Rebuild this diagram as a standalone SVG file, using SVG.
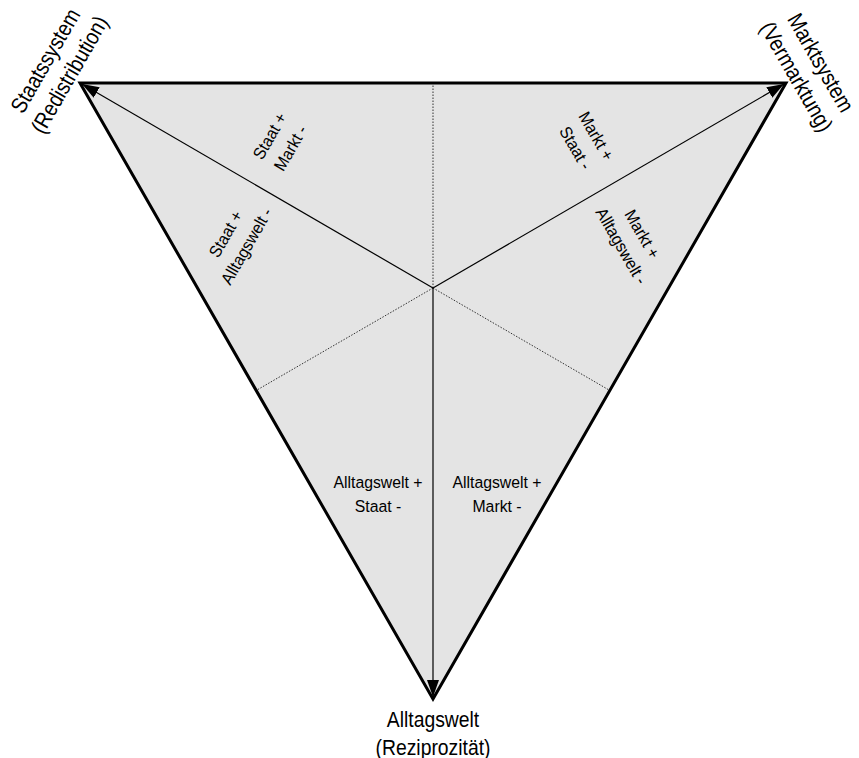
<svg xmlns="http://www.w3.org/2000/svg" width="859" height="758" viewBox="0 0 859 758">
<style>
text{font-family:"Liberation Sans",Arial,sans-serif;fill:#000;text-anchor:middle}
.big{font-size:22.5px}
.sm{font-size:17px}
.solid{stroke:#000;stroke-width:1.2;fill:none}
.dot{stroke:#333;stroke-width:1;stroke-dasharray:1.5,1.5;fill:none}
</style>
<defs>
<marker id="arr" viewBox="0 0 17 12" refX="17" refY="6" markerWidth="17" markerHeight="12" markerUnits="userSpaceOnUse" orient="auto">
<path d="M0,0 L17,6 L0,12 z" fill="#000"/>
</marker>
</defs>
<g id="triangle">
<polygon points="80,83 786,83 433,699" fill="#e4e4e4" stroke="#000" stroke-width="3" stroke-linejoin="miter"/>
</g>
<g id="connectors">
<line class="dot" x1="433" y1="288" x2="433" y2="84"/>
<line class="dot" x1="433" y1="288" x2="257" y2="390"/>
<line class="dot" x1="433" y1="288" x2="609" y2="390"/>
<line class="solid" x1="433" y1="288" x2="82" y2="84" marker-end="url(#arr)"/>
<line class="solid" x1="433" y1="288" x2="784" y2="84" marker-end="url(#arr)"/>
<line class="solid" x1="433" y1="288" x2="433" y2="697" marker-end="url(#arr)"/>
</g>
<g id="staatssystem" transform="translate(58,68) rotate(-60) scale(0.86,1)">
<text class="big" y="-7">Staatssystem</text>
<text class="big" y="21">(Redistribution)</text>
</g>
<g id="marktsystem" transform="translate(808,70) rotate(60) scale(0.86,1)">
<text class="big" y="-7">Marktsystem</text>
<text class="big" y="21">(Vermarktung)</text>
</g>
<g id="alltagswelt" transform="translate(433,0) scale(0.86,1)">
<text class="big" x="0" y="727">Alltagswelt</text>
<text class="big" x="0" y="755">(Reziprozität)</text>
</g>
<g id="staat-markt" transform="translate(280,142) rotate(-60) scale(0.93,1)">
<text class="sm" y="-6">Staat +</text>
<text class="sm" y="18">Markt -</text>
</g>
<g id="staat-alltag" transform="translate(236,240) rotate(-60) scale(0.93,1)">
<text class="sm" y="-6">Staat +</text>
<text class="sm" y="18">Alltagswelt -</text>
</g>
<g id="markt-staat" transform="translate(586,142) rotate(60) scale(0.93,1)">
<text class="sm" y="-6">Markt +</text>
<text class="sm" y="18">Staat -</text>
</g>
<g id="markt-alltag" transform="translate(632,240) rotate(60) scale(0.93,1)">
<text class="sm" y="-6">Markt +</text>
<text class="sm" y="18">Alltagswelt -</text>
</g>
<g id="alltag-staat" transform="translate(378,0) scale(0.93,1)">
<text class="sm" x="0" y="488">Alltagswelt +</text>
<text class="sm" x="0" y="512">Staat -</text>
</g>
<g id="alltag-markt" transform="translate(497,0) scale(0.93,1)">
<text class="sm" x="0" y="488">Alltagswelt +</text>
<text class="sm" x="0" y="512">Markt -</text>
</g>
</svg>
